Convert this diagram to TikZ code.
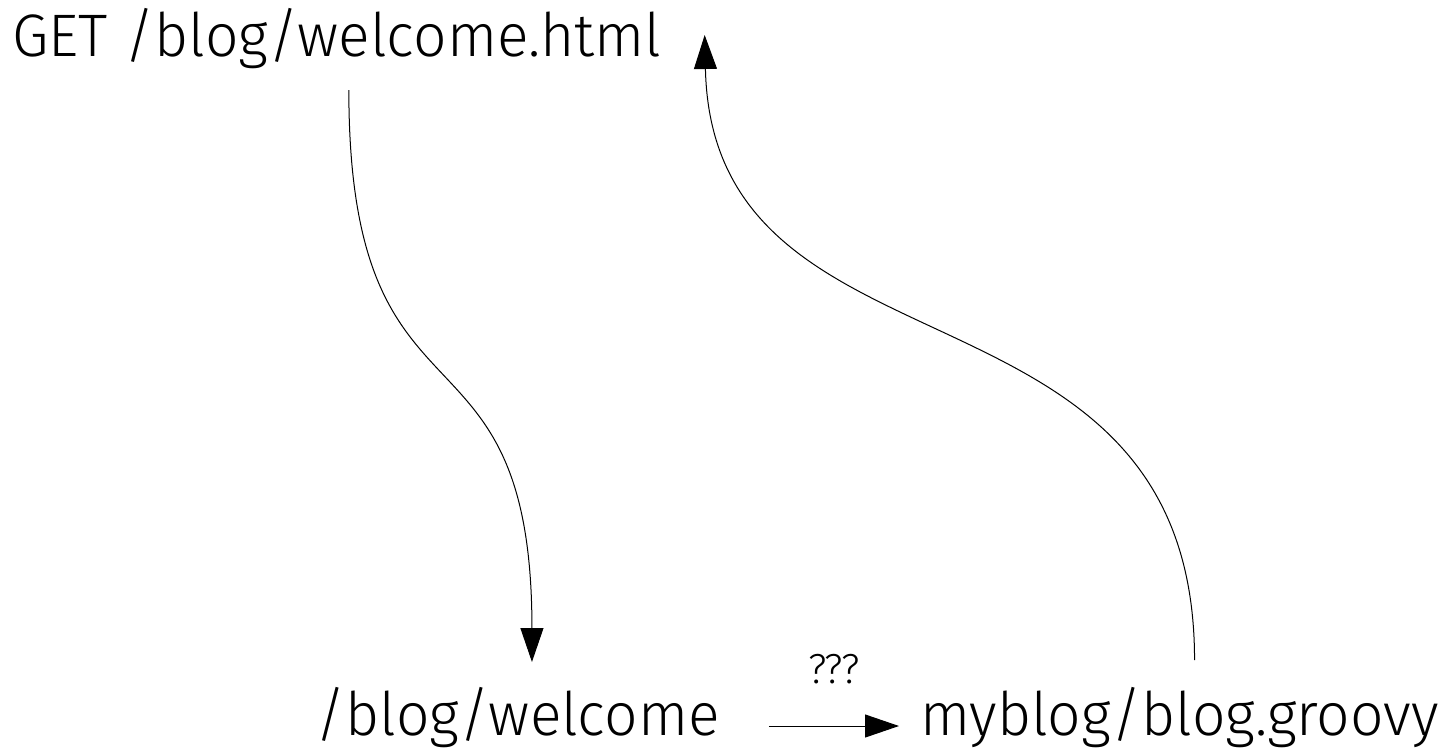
\documentclass[tikz,border=0pt]{standalone}
\usepackage{fontspec}
\setmainfont{Fira Sans}[UprightFont=* Light, FakeStretch=0.98]
\usetikzlibrary{arrows.meta,calc}

\begin{document}
\begin{tikzpicture}[x=1pt,y=-1pt,
    big/.style={font=\fontsize{60}{66}\selectfont,inner sep=0pt},
    small/.style={font=\fontsize{42}{48}\selectfont,inner sep=0pt},
    link/.style={line width=1pt,-{Triangle[length=34pt,width=23pt]}}]
  \useasboundingbox (0,0) rectangle (1450,755);
  \node[big,anchor=base west] (get) at (12, 56) {GET /blog/welcome.html};
  \node[big,anchor=base west] (welcome) at (315, 735) {/blog/welcome};
  \node[big,anchor=base west] (groovy) at (920, 735) {myblog/blog.groovy};
  \draw[link]
    ($(get.base)+(12,34)$) .. controls +(0,360) and +(0,-360)
    .. ($(welcome.base)+(14.5,-73)$);
  \draw[link]
    ($(groovy.base)+(15,-75)$) .. controls +(0,-400) and +(8,360)
    .. ($(get.base east)+(43,-21)$);
  \draw[link]
    ($(welcome.base east)+(49,-9)$) -- ($(groovy.base west)+(-21,-9)$)
    node[small,midway,above=42pt] (ask) {???};
\end{tikzpicture}
\end{document}
